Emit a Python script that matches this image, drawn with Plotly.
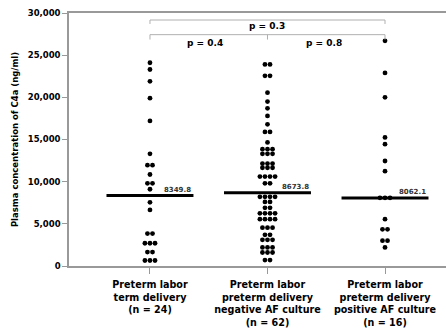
import plotly.graph_objects as go
from collections import Counter

# ---- data ----
categories = [
    "Preterm labor<br>term delivery<br>(n = 24)",
    "Preterm labor<br>preterm delivery<br>negative AF culture<br>(n = 62)",
    "Preterm labor<br>preterm delivery<br>positive AF culture<br>(n = 16)",
]
group1 = [24100, 23300, 21900, 19900, 17200, 13300, 11950, 11950, 10850, 9800, 9800,
          9100, 7550, 6650, 3850, 3850, 2700, 2700, 2700, 1650, 1650, 650, 650, 650]
group2 = [23900, 23900, 22550, 22550, 20550, 19500, 18700, 17800, 16800, 15900, 15900,
          14650, 13850, 13850, 13850, 13300, 13300, 13300, 12150, 12150, 12150,
          11650, 11650, 11650, 10600, 10600, 10600, 10600, 9800, 9800,
          8200, 8200, 8200, 8200, 7600, 7600, 6900, 6900, 6250, 6250, 6250, 6250,
          5550, 5550, 5550, 5550, 4550, 4550, 4550, 3700, 3700, 3100, 3100, 3100,
          2200, 2200, 2200, 1600, 1600, 1600, 700, 700]
group3 = [26700, 22900, 20000, 15250, 14450, 12450, 11250, 8080, 8080, 8080,
          5550, 4350, 4350, 3000, 3000, 2200]
groups = [group1, group2, group3]
medians = [8349.8, 8673.8, 8062.1]
median_labels = ["8349.8", "8673.8", "8062.1"]
comparisons = [(1, 3, "p = 0.3"), (1, 2, "p = 0.4"), (2, 3, "p = 0.8")]
y_ticks = [0, 5000, 10000, 15000, 20000, 25000, 30000]
y_ticktext = ["0", "5,000", "10,000", "15,000", "20,000", "25,000", "30,000"]

FONT = "DejaVu Sans"
spacing = 0.043   # horizontal dot spacing (x units)
half_w = 0.37     # median line half width

fig = go.Figure()

for gi, vals in enumerate(groups, start=1):
    counts = Counter(vals)
    seen = Counter()
    xs, ys = [], []
    for v in vals:
        n = counts[v]
        i = seen[v]
        seen[v] += 1
        xs.append(gi + (i - (n - 1) / 2) * spacing)
        ys.append(v)
    fig.add_trace(go.Scatter(x=xs, y=ys, mode="markers",
                             marker=dict(size=4.8, color="black"),
                             showlegend=False, hoverinfo="y"))
    # median line
    fig.add_trace(go.Scatter(x=[gi - half_w, gi + half_w], y=[medians[gi - 1]] * 2,
                             mode="lines", line=dict(color="black", width=3),
                             showlegend=False, hoverinfo="skip"))
    fig.add_annotation(x=gi + half_w, y=medians[gi - 1], text=median_labels[gi - 1],
                       showarrow=False, xanchor="right", yanchor="bottom", yshift=0,
                       font=dict(family=FONT, size=7, color="#333", weight="bold"))

# brackets
bcol = "#b0b0b0"
top_y, top_tick = 29170, 28700
low_y, low_tick = 27430, 26850
fig.add_shape(type="line", x0=1, x1=3, y0=top_y, y1=top_y, line=dict(color=bcol, width=1))
for xx in (1, 3):
    fig.add_shape(type="line", x0=xx, x1=xx, y0=top_y, y1=top_tick, line=dict(color=bcol, width=1))
fig.add_shape(type="line", x0=1, x1=3, y0=low_y, y1=low_y, line=dict(color=bcol, width=1))
for xx in (1, 2, 3):
    fig.add_shape(type="line", x0=xx, x1=xx, y0=low_y, y1=low_tick, line=dict(color=bcol, width=1))

p_pos = {"p = 0.3": (2.0, 28450), "p = 0.4": (1.47, 26480), "p = 0.8": (2.48, 26480)}
for a, b, txt in comparisons:
    px, py = p_pos[txt]
    fig.add_annotation(x=px, y=py, text=txt, showarrow=False, xanchor="center", yanchor="middle",
                       font=dict(family=FONT, size=9, color="black", weight="bold"))

fig.update_layout(
    width=446, height=329,
    margin=dict(l=69, r=0, t=13, b=63),
    plot_bgcolor="white", paper_bgcolor="white",
    font=dict(family=FONT, color="black"),
)
fig.update_xaxes(range=[0.311, 3.519], tickvals=[1, 2, 3], ticktext=categories,
                 showgrid=False, zeroline=False, showline=True, linecolor="#999",
                 linewidth=1.5, mirror=True, ticks="outside", ticklen=6, tickcolor="#999",
                 ticklabelstandoff=3,
                 tickfont=dict(family=FONT, size=9.6, color="black", weight="bold"))
fig.update_yaxes(range=[0, 30000], tickvals=y_ticks, ticktext=y_ticktext,
                 showgrid=False, zeroline=False, showline=True, linecolor="#999",
                 linewidth=1.5, ticks="outside", ticklen=5, tickcolor="#999",
                 tickfont=dict(family=FONT, size=8.5, color="black", weight="bold"),
                 title=dict(text="Plasma concentration of C4a (ng/ml)", standoff=8,
                            font=dict(family=FONT, size=8.5, color="black", weight="bold")))

fig.write_html("out.html")
